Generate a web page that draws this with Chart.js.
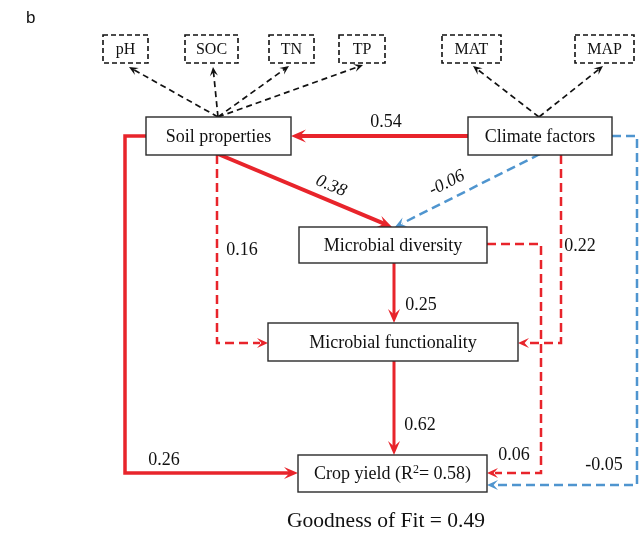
<!DOCTYPE html>
<html>
<head>
<meta charset="utf-8">
<script src="https://cdn.jsdelivr.net/npm/chart.js@4"></script>
<style>
html,body{margin:0;padding:0;background:#fff;}
canvas{display:block;}
</style>
</head>
<body>
<canvas id="c" width="643" height="534"></canvas>
<script>
// ---- data ----
const panelLabel = 'b';
const latentNames = ['Soil properties', 'Climate factors', 'Microbial diversity', 'Microbial functionality', 'Crop yield'];
const cropR2 = 0.58;
const indicatorNames = ['pH', 'SOC', 'TN', 'TP', 'MAT', 'MAP'];
const indicatorParent = [0, 0, 0, 0, 1, 1];
const pathFrom = [1, 0, 1, 0, 1, 2, 3, 2, 0, 1];
const pathTo   = [0, 2, 2, 3, 3, 3, 4, 4, 4, 4];
const pathCoef = [0.54, 0.38, -0.06, 0.16, 0.22, 0.25, 0.62, 0.06, 0.26, -0.05];
const pathSignificant = [true, true, false, false, false, true, true, false, true, false];
const goodnessOfFit = 0.49;

// ---- layout (diagram coordinates, in axis units) ----
const latentBoxes = [[146,117,291,155],[468,117,612,155],[299,227,487,263],[268,323,518,361],[298,455,487,492]];
const indicatorBoxes = [[103,35,148,63],[185,35,238,63],[269,35,314,63],[339,35,385,63],[442,35,501,63],[575,35,634,63]];
const indicatorStart = [[218,117],[218,117],[218,117],[218,117],[539,117],[539,117]];
const indicatorTip = [[129,67],[213,67],[289,66],[363,65],[473,66],[603,66]];
const pathRoutes = [
  [[468,136],[291,136]],
  [[218,154],[392,227]],
  [[540,154],[395,227]],
  [[217,155],[217,343],[268,343]],
  [[561,155],[561,343],[518,343]],
  [[394,263],[394,323]],
  [[394,361],[394,455]],
  [[487,244],[541,244],[541,473],[487,473]],
  [[146,136],[125,136],[125,473],[298,473]],
  [[612,136],[637,136],[637,485],[487,485]]
];
const pathWidth = [4, 4, 2.5, 2.5, 2.5, 3, 3, 2.5, 3.5, 2.5];
const labelPos = [[386,122,0,false],[331,186,22.8,true],[447,183,-26.4,true],[242,250,0,false],[580,246,0,false],[421,305,0,false],[420,425,0,false],[514,455,0,false],[164,460,0,false],[604,465,0,false]];

const RED = '#e8242b', BLUE = '#4f95cf', BOXC = '#2a2a2a';
const SERIF = '"Liberation Serif", "Times New Roman", serif';

function shorten(route, d) {
  const pts = route.map(p => ({x: p[0], y: p[1]}));
  const n = pts.length, a = pts[n-2], b = pts[n-1];
  const dx = b.x - a.x, dy = b.y - a.y, L = Math.hypot(dx, dy);
  pts[n-1] = {x: b.x - dx / L * d, y: b.y - dy / L * d};
  return pts;
}

const datasets = [];
pathCoef.forEach((v, i) => {
  const col = v < 0 ? BLUE : RED;
  datasets.push({
    label: latentNames[pathFrom[i]] + ' -> ' + latentNames[pathTo[i]],
    data: shorten(pathRoutes[i], 8),
    showLine: true, fill: false, tension: 0, pointRadius: 0, pointHoverRadius: 0,
    borderColor: col, borderWidth: pathWidth[i],
    borderDash: pathSignificant[i] ? [] : [9, 5],
    borderCapStyle: 'butt', borderJoinStyle: 'miter', clip: false,
    _arrow: {tip: pathRoutes[i][pathRoutes[i].length-1], prev: pathRoutes[i][pathRoutes[i].length-2], color: col, big: pathSignificant[i], wide: i === 0}
  });
});
indicatorNames.forEach((n, i) => {
  datasets.push({
    label: latentNames[indicatorParent[i]] + ' -> ' + n,
    data: shorten([indicatorStart[i], indicatorTip[i]], 4),
    showLine: true, fill: false, tension: 0, pointRadius: 0, pointHoverRadius: 0,
    borderColor: '#111', borderWidth: 1.7, borderDash: [6, 4],
    borderCapStyle: 'butt', clip: false,
    _arrow: {tip: indicatorTip[i], prev: indicatorStart[i], color: '#111', small: true}
  });
});

function arrowHead(ctx, tx, ty, px, py, len, wid, color) {
  const dx = tx - px, dy = ty - py, L = Math.hypot(dx, dy);
  const ux = dx / L, uy = dy / L, nx = -uy, ny = ux;
  ctx.save();
  ctx.fillStyle = color;
  ctx.beginPath();
  ctx.moveTo(tx, ty);
  ctx.lineTo(tx - ux*len + nx*wid/2, ty - uy*len + ny*wid/2);
  ctx.lineTo(tx - ux*len*0.6, ty - uy*len*0.6);
  ctx.lineTo(tx - ux*len - nx*wid/2, ty - uy*len - ny*wid/2);
  ctx.closePath();
  ctx.fill();
  ctx.restore();
}

const diagram = {
  id: 'diagram',
  afterDatasetsDraw(chart) {
    const ctx = chart.ctx, sx = chart.scales.x, sy = chart.scales.y;
    const X = v => sx.getPixelForValue(v), Y = v => sy.getPixelForValue(v);
    // arrowheads
    chart.data.datasets.forEach(ds => {
      const a = ds._arrow;
      if (!a) return;
      const args = [ctx, X(a.tip[0]), Y(a.tip[1]), X(a.prev[0]), Y(a.prev[1])];
      if (a.wide) arrowHead(...args, 15, 13, a.color);
      else if (a.small) arrowHead(...args, 9, 8, a.color);
      else if (a.big) arrowHead(...args, 14, 12, a.color);
      else arrowHead(...args, 11, 10, a.color);
    });
    // latent boxes
    ctx.save();
    latentBoxes.forEach((b, i) => {
      const x1 = X(b[0]), y1 = Y(b[1]), x2 = X(b[2]), y2 = Y(b[3]);
      ctx.fillStyle = '#fff';
      ctx.fillRect(x1, y1, x2 - x1, y2 - y1);
      ctx.strokeStyle = BOXC; ctx.lineWidth = 1.4; ctx.setLineDash([]);
      ctx.strokeRect(x1, y1, x2 - x1, y2 - y1);
      ctx.fillStyle = '#111';
      ctx.textBaseline = 'middle';
      const cx = (x1 + x2) / 2, cy = (y1 + y2) / 2 + 1;
      if (i === 4) {
        const f1 = '18px ' + SERIF, f2 = '12px ' + SERIF;
        const p1 = latentNames[i] + ' (R', p2 = '2', p3 = '= ' + cropR2.toFixed(2) + ')';
        ctx.font = f1; const w1 = ctx.measureText(p1).width, w3 = ctx.measureText(p3).width;
        ctx.font = f2; const w2 = ctx.measureText(p2).width;
        let x = cx - (w1 + w2 + w3) / 2;
        ctx.textAlign = 'left';
        ctx.font = f1; ctx.fillText(p1, x, cy); x += w1;
        ctx.font = f2; ctx.fillText(p2, x, cy - 5); x += w2;
        ctx.font = f1; ctx.fillText(p3, x, cy);
      } else {
        ctx.font = '18px ' + SERIF; ctx.textAlign = 'center';
        ctx.fillText(latentNames[i], cx, cy);
      }
    });
    // indicator boxes
    indicatorBoxes.forEach((b, i) => {
      const x1 = X(b[0]), y1 = Y(b[1]), x2 = X(b[2]), y2 = Y(b[3]);
      ctx.strokeStyle = '#111'; ctx.lineWidth = 1.6; ctx.setLineDash([5, 3]);
      ctx.strokeRect(x1, y1, x2 - x1, y2 - y1);
      ctx.setLineDash([]);
      ctx.fillStyle = '#111'; ctx.font = '16px ' + SERIF;
      ctx.textAlign = 'center'; ctx.textBaseline = 'middle';
      ctx.fillText(indicatorNames[i], (x1 + x2) / 2, (y1 + y2) / 2 + 1);
    });
    // coefficient labels
    pathCoef.forEach((v, i) => {
      const p = labelPos[i];
      ctx.save();
      ctx.translate(X(p[0]), Y(p[1]));
      ctx.rotate(p[2] * Math.PI / 180);
      ctx.font = (p[3] ? 'italic ' : '') + '18px ' + SERIF;
      ctx.fillStyle = '#111'; ctx.textAlign = 'center'; ctx.textBaseline = 'middle';
      ctx.fillText(v.toFixed(2), 0, 0);
      ctx.restore();
    });
    // fit text
    ctx.font = '21.5px ' + SERIF; ctx.fillStyle = '#111';
    ctx.textAlign = 'center'; ctx.textBaseline = 'middle';
    ctx.fillText('Goodness of Fit = ' + goodnessOfFit.toFixed(2), X(386), Y(521));
    // panel letter
    ctx.font = '17px "Liberation Sans", Arial, sans-serif';
    ctx.textAlign = 'left'; ctx.textBaseline = 'alphabetic';
    ctx.fillText(panelLabel, X(26), Y(23));
    ctx.restore();
  }
};

new Chart(document.getElementById('c'), {
  type: 'scatter',
  data: { datasets },
  options: {
    responsive: false, animation: false, events: [],
    layout: { padding: 0, autoPadding: false },
    scales: {
      x: { type: 'linear', min: 0, max: 643, display: false },
      y: { type: 'linear', min: 0, max: 534, reverse: true, display: false }
    },
    plugins: { legend: { display: false }, tooltip: { enabled: false } }
  },
  plugins: [diagram]
});
</script>
</body>
</html>
